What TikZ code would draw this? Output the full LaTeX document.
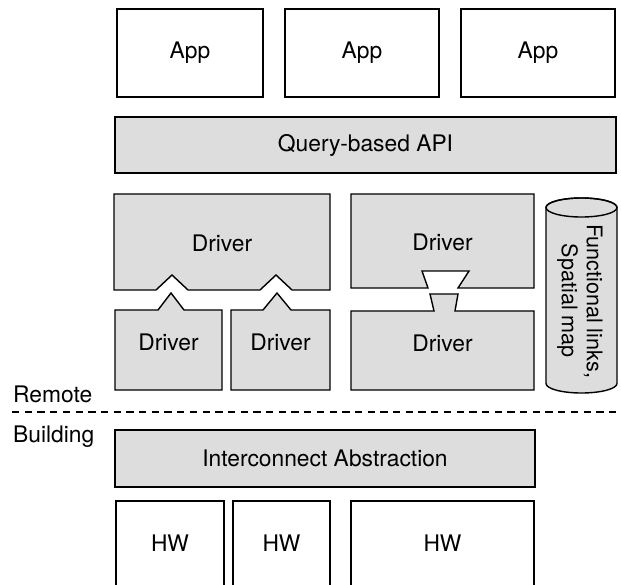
\documentclass[tikz,border=0pt]{standalone}
\usepackage{fontspec}
\setmainfont{TeX Gyre Heros}
\definecolor{boxgray}{HTML}{DDDDDD}
\tikzset{
  every node/.style={font=\fontsize{22.8}{25}\selectfont},
  lw/.style={line width=1.4pt, line join=miter},
  whitebox/.style={lw, draw=black, fill=white, inner sep=0pt},
  graybox/.style={lw, draw=black, fill=boxgray, inner sep=0pt},
  grayshape/.style={lw, draw=black, fill=boxgray},
  lbl/.style={inner sep=0pt},
}
\begin{document}
\begin{tikzpicture}[x=1pt,y=-1pt]
\useasboundingbox (0,0) rectangle (621,585);
% Apps
\node[whitebox, minimum width=146pt, minimum height=88pt] (app1) at (190,53) {App};
\node[whitebox, minimum width=154pt, minimum height=88pt] (app2) at (362,53) {App};
\node[whitebox, minimum width=154pt, minimum height=88pt] (app3) at (538,53) {App};
% API
\node[graybox, minimum width=501pt, minimum height=56pt] (api) at (365.5,145) {Query-based API};
% Drivers left
\draw[grayshape] (114,194) -- (330,194) -- (330,290) -- (292,290) -- (276,275) -- (260,290)
  -- (188,290) -- (172,275) -- (156,290) -- (114,290) -- cycle;
\node[lbl] (drvtl) at (222,243) {Driver};
\draw[grayshape] (115,390) -- (115,310) -- (158,310) -- (171,293) -- (184,310) -- (222,310) -- (222,390) -- cycle;
\node[lbl] (drvla) at (168.5,342) {Driver};
\draw[grayshape] (231,390) -- (231,310) -- (263,310) -- (277,293) -- (291,310) -- (330,310) -- (330,390) -- cycle;
\node[lbl] (drvlb) at (280.5,342) {Driver};
% Drivers right
\draw[grayshape] (351,194) -- (534,194) -- (534,288) -- (458,288) -- (469,271) -- (422,271) -- (428,288) -- (351,288) -- cycle;
\node[lbl] (drvrt) at (442.5,242) {Driver};
\draw[grayshape] (351,390) -- (351,311) -- (434,311) -- (430,294) -- (458,294) -- (455,311) -- (534,311) -- (534,390) -- cycle;
\node[lbl] (drvrb) at (442.5,343) {Driver};
% Cylinder
\draw[grayshape] (546,207.5) -- (546,383.5) arc[start angle=180, end angle=360, x radius=35.5, y radius=-9.5]
  -- (617,207.5) arc[start angle=0, end angle=180, x radius=35.5, y radius=-9.5] -- cycle;
\draw[lw] (581.5,207.5) ellipse[x radius=35.5, y radius=9.5];
\node[lbl, rotate=-90, align=center, font=\fontsize{21.6}{25}\selectfont] (map) at (580,301) {Functional links,\\Spatial map};
% Divider
\node[lbl, anchor=base west] (remote) at (13,402) {Remote};
\coordinate (dl) at (12,412);
\coordinate (dr) at (621,412);
\draw[line width=1.4pt, dash pattern=on 7.3pt off 5.4pt] (dl) -- (dr);
\node[lbl, anchor=base west] (building) at (13,442) {Building};
% Interconnect
\node[graybox, minimum width=420pt, minimum height=57pt] (ica) at (325,458.5) {Interconnect Abstraction};
% HW
\draw[lw] (116,590) |- (224,501) -- (224,590);
\node[lbl] (hw1) at (170,543) {HW};
\draw[lw] (233,590) |- (330,501) -- (330,590);
\node[lbl] (hw2) at (281.5,543) {HW};
\draw[lw] (351,590) |- (534,501) -- (534,590);
\node[lbl] (hw3) at (442.5,543) {HW};
\end{tikzpicture}
\end{document}
